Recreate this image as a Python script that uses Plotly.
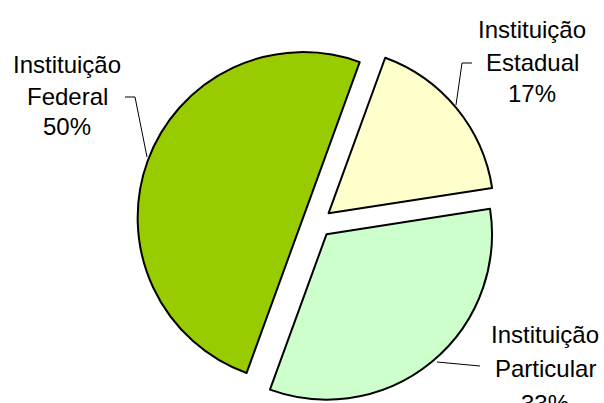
import plotly.graph_objects as go

W, H = 604, 403

categories = ["Instituição Estadual", "Instituição Particular", "Instituição Federal"]
values = [17, 33, 50]
colors = ["#FFFFCC", "#CCFFCC", "#99CC00"]

total = sum(values)
pcts = [round(v * 100 / total) for v in values]

fig = go.Figure(go.Pie(
    labels=categories,
    values=values,
    sort=False,
    direction="clockwise",
    rotation=20,
    pull=[0.09, 0.09, 0.09],
    marker=dict(colors=colors, line=dict(color="black", width=2)),
    textinfo="none",
    hoverinfo="label+percent",
    showlegend=False,
    domain=dict(x=[0.1, 0.95], y=[0.0, 0.895]),
))

def px(x):
    return x / W

def py(y):
    return 1 - y / H

# label text placement: centre x and vertical centres of each text line (pixels)
label_x = [532, 545, 67]
label_lines_y = [(28, 61, 92), (333, 367, 402), (64, 95, 125)]
leaders = [
    [(456, 105), (462, 63), (472, 63)],
    [(437, 362), (480, 366)],
    [(147, 157), (135, 97), (125, 97)],
]

annotations = []
shapes = []
for cat, p, lx, ys, pts in zip(categories, pcts, label_x, label_lines_y, leaders):
    words = cat.split(" ")
    lines = [words[0], words[1], f"{p}%"]
    for txt, ly in zip(lines, ys):
        annotations.append(dict(
            text=txt,
            x=px(lx), y=py(ly + 1), xref="paper", yref="paper",
            xanchor="center", yanchor="middle", showarrow=False,
            font=dict(family="Liberation Sans, Arial", size=24, color="black"),
            align="center",
        ))
    path = "M " + " L ".join(f"{px(a)},{py(b)}" for a, b in pts)
    shapes.append(dict(type="path", path=path, xref="paper", yref="paper",
                       line=dict(color="black", width=1)))

fig.update_layout(
    width=W, height=H,
    margin=dict(l=0, r=0, t=0, b=0),
    paper_bgcolor="white",
    plot_bgcolor="white",
    annotations=annotations,
    shapes=shapes,
)

fig.write_html("out.html", config={"displayModeBar": False},
               post_script="document.body.style.margin='0';document.body.style.overflow='hidden';")
